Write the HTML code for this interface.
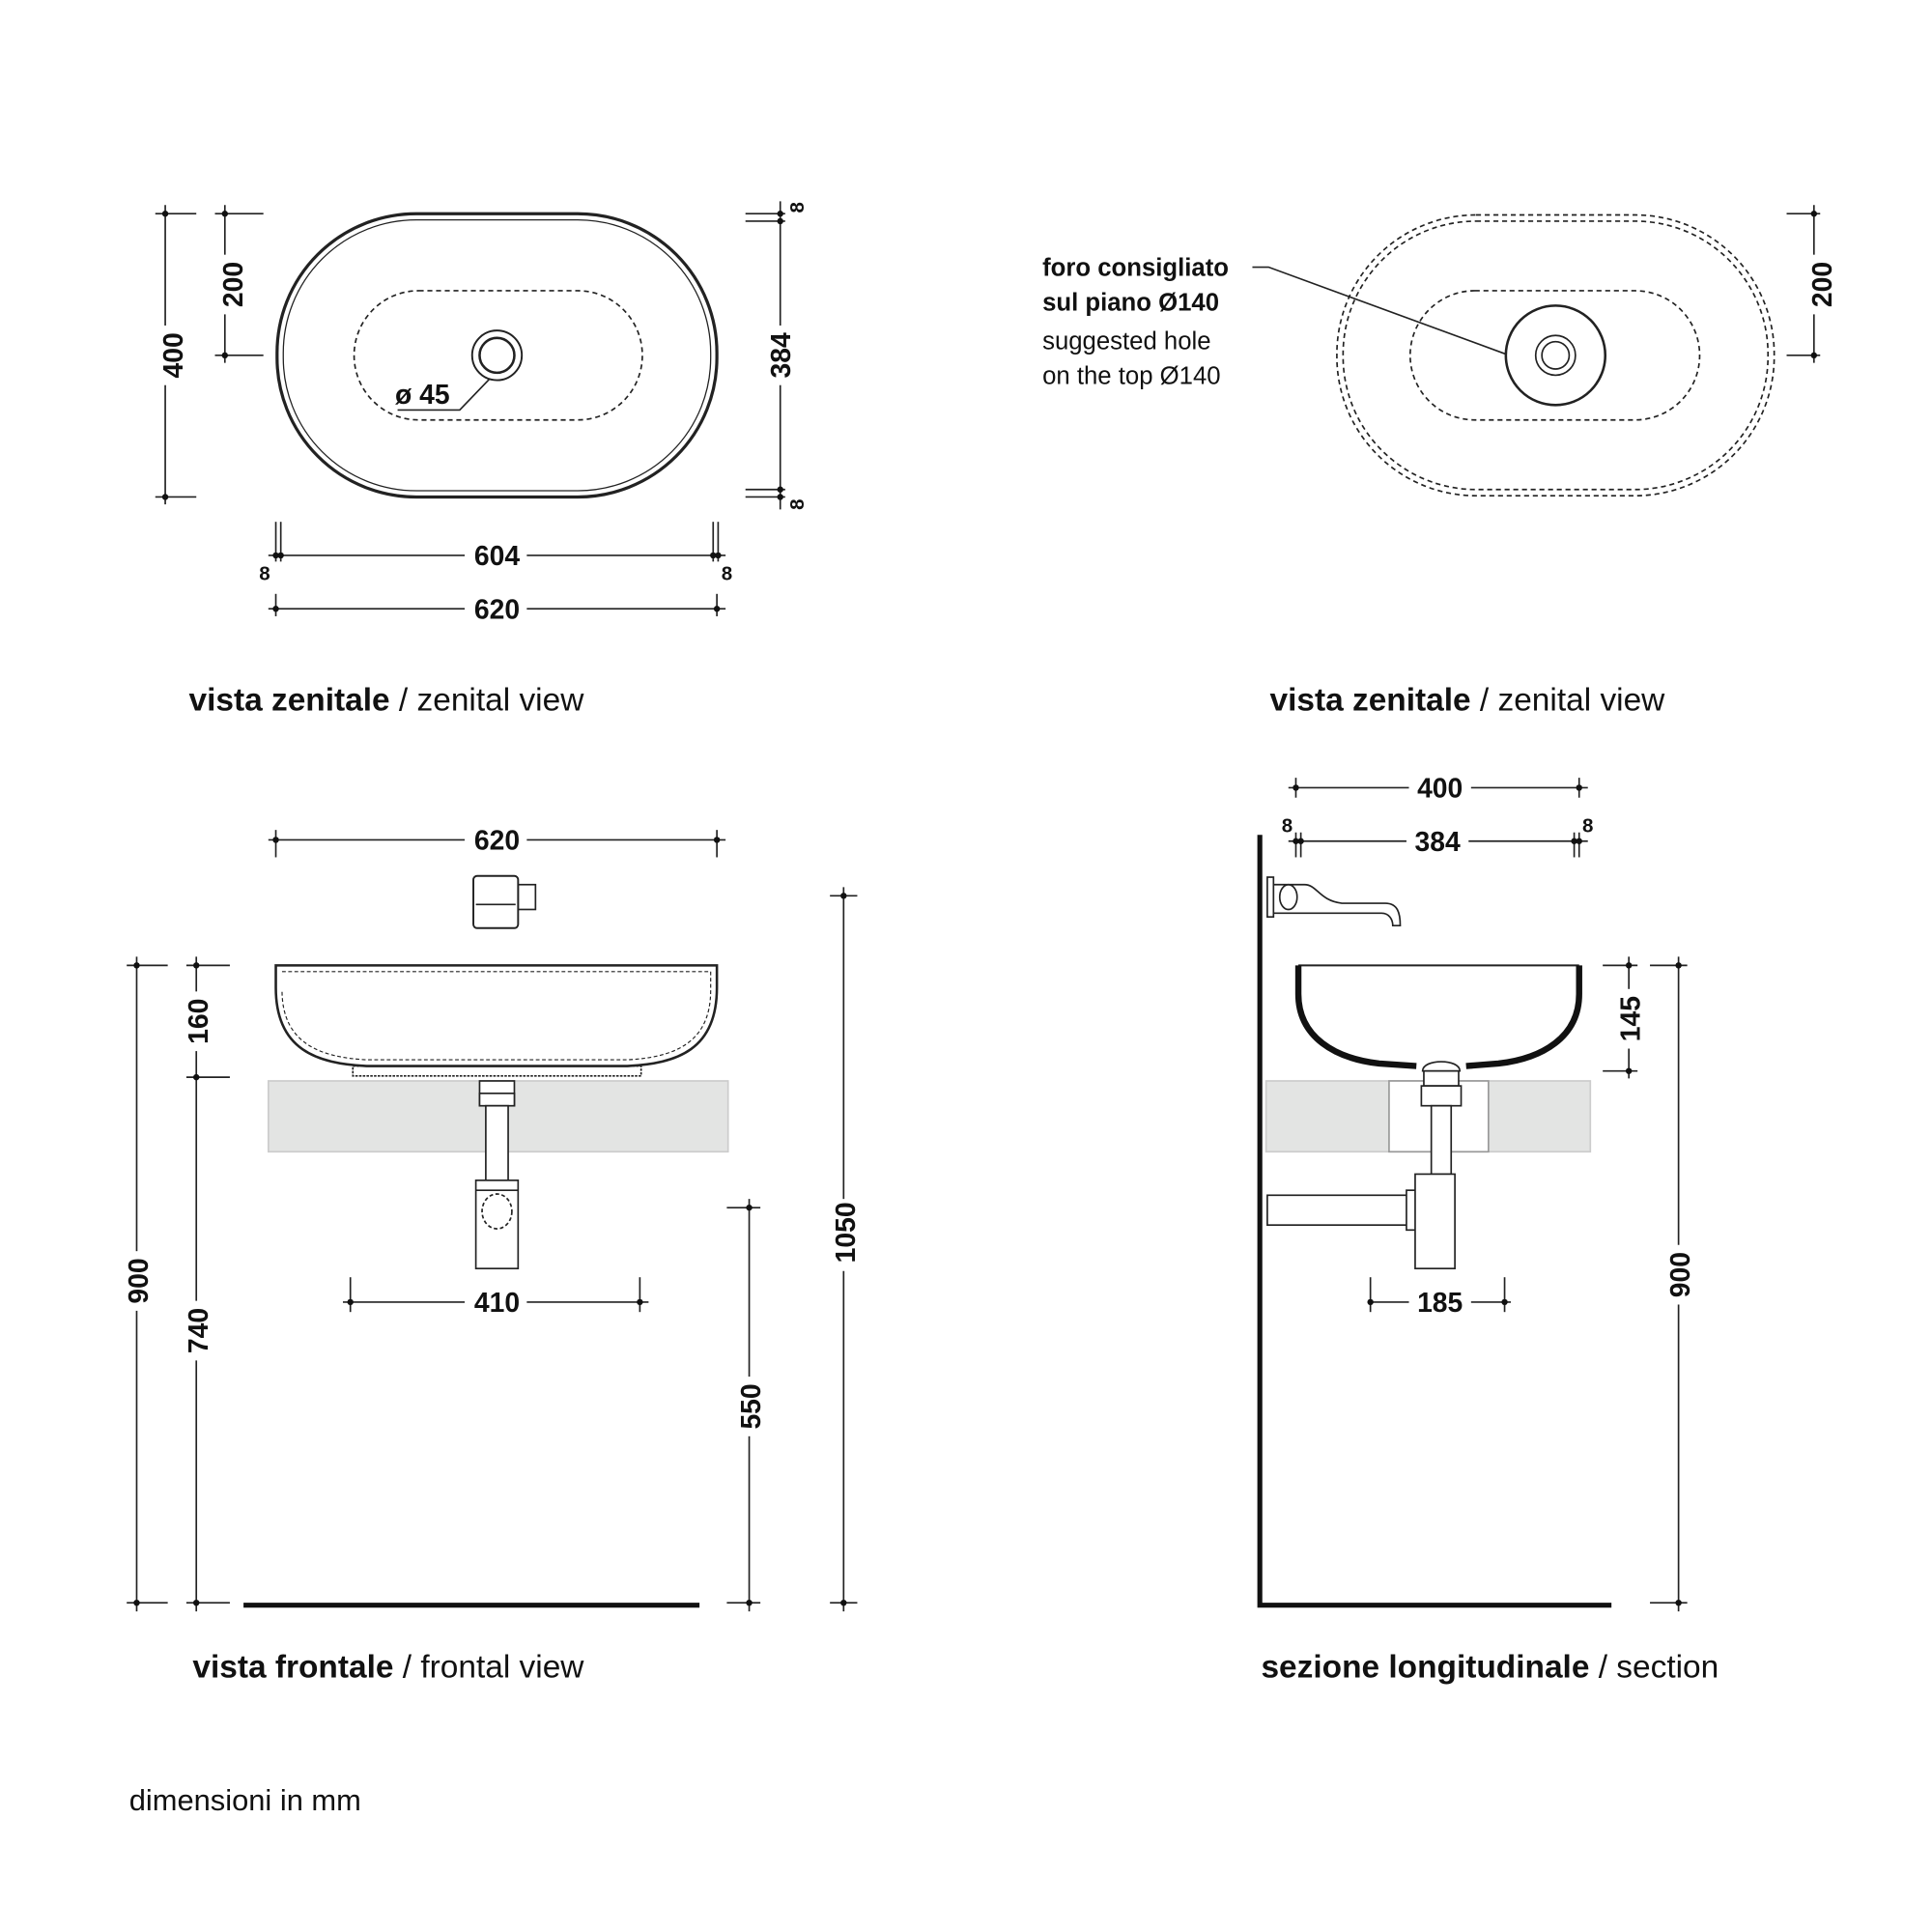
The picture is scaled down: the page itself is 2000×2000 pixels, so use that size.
<!DOCTYPE html>
<html><head><meta charset="utf-8"><style>
html,body{margin:0;padding:0;background:#fff;}
svg{display:block;}
text{font-family:"Liberation Sans Narrow","Liberation Sans",sans-serif;fill:#111;}
.d{font-size:22px;font-weight:bold;}
.s{font-size:16px;font-weight:bold;}
.cap{font-size:26px;}
</style></head><body>
<svg width="2000" height="2000" viewBox="0 0 1555 1555" xmlns="http://www.w3.org/2000/svg">
<g stroke="#222" stroke-width="1.3" fill="none">
<!-- ===== TOP LEFT ===== -->
<rect x="223" y="172" width="354" height="228" rx="112" stroke-width="2.5"/>
<rect x="228" y="177" width="344" height="218" rx="107" stroke-width="1"/>
<rect x="285" y="234" width="232" height="104" rx="52" stroke-dasharray="4,3"/>
<circle cx="400" cy="286" r="20" stroke-width="1.5"/>
<circle cx="400" cy="286" r="14" stroke-width="2"/>
<polyline points="394,305 370,330 320,330"/>
<line x1="133" y1="165" x2="133" y2="406"/><line x1="125" y1="172" x2="158" y2="172"/><line x1="125" y1="400" x2="158" y2="400"/>
<line x1="181" y1="165" x2="181" y2="292"/><line x1="173" y1="172" x2="212" y2="172"/><line x1="173" y1="286" x2="212" y2="286"/>
<line x1="628" y1="162" x2="628" y2="410"/>
<line x1="600" y1="172" x2="632" y2="172"/><line x1="600" y1="178" x2="632" y2="178"/>
<line x1="600" y1="394" x2="632" y2="394"/><line x1="600" y1="400" x2="632" y2="400"/>
<line x1="216" y1="447" x2="584" y2="447"/>
<line x1="222" y1="420" x2="222" y2="452"/><line x1="226" y1="420" x2="226" y2="452"/>
<line x1="574" y1="420" x2="574" y2="452"/><line x1="578" y1="420" x2="578" y2="452"/>
<line x1="216" y1="490" x2="584" y2="490"/>
<line x1="222" y1="478" x2="222" y2="496"/><line x1="577" y1="478" x2="577" y2="496"/>

<!-- ===== TOP RIGHT ===== -->
<rect x="1076" y="173" width="352" height="226" rx="112" stroke-dasharray="4,3"/>
<rect x="1081" y="178" width="342" height="216" rx="107" stroke-dasharray="4,3"/>
<rect x="1135" y="234" width="233" height="104" rx="52" stroke-dasharray="4,3"/>
<circle cx="1252" cy="286" r="40" stroke-width="2"/>
<circle cx="1252" cy="286" r="16"/>
<circle cx="1252" cy="286" r="11"/>
<polyline points="1008,215 1021,215 1212,285"/>
<line x1="1460" y1="165" x2="1460" y2="292"/><line x1="1438" y1="172" x2="1465" y2="172"/><line x1="1438" y1="286" x2="1465" y2="286"/>

<!-- ===== FRONTAL ===== -->
<line x1="216" y1="676" x2="584" y2="676"/><line x1="222" y1="668" x2="222" y2="690"/><line x1="577" y1="668" x2="577" y2="690"/>
<rect x="381" y="705" width="36" height="42" rx="3" stroke-width="1.5"/>
<rect x="417" y="712" width="14" height="20"/>
<line x1="383" y1="728" x2="415" y2="728"/>
<path d="M222,777 L577,777 L577,795 C577,845 545,856 505,858 L295,858 C255,856 222,845 222,795 Z" stroke-width="2"/>
<path d="M227,782 L572,782 L572,797 C572,840 542,851 505,853 L295,853 C258,851 227,840 227,797" stroke-dasharray="3,2" stroke-width="0.9"/>
<rect x="284" y="858" width="232" height="8" stroke-dasharray="2,1"/>
<rect x="216" y="870" width="370" height="57" fill="#e3e4e3" stroke="#ccc"/>
<rect x="386" y="870" width="28" height="20" fill="#fff"/>
<rect x="386" y="880" width="28" height="10" fill="#fff"/>
<rect x="391" y="890" width="18" height="65" fill="#fff"/>
<rect x="383" y="950" width="34" height="71" fill="#fff"/>
<line x1="383" y1="958" x2="417" y2="958"/>
<ellipse cx="400" cy="975" rx="12" ry="14" stroke-dasharray="3,2"/>
<line x1="110" y1="770" x2="110" y2="1297"/><line x1="102" y1="777" x2="135" y2="777"/><line x1="102" y1="1290" x2="135" y2="1290"/>
<line x1="158" y1="770" x2="158" y2="1297"/><line x1="150" y1="777" x2="185" y2="777"/><line x1="150" y1="867" x2="185" y2="867"/><line x1="150" y1="1290" x2="185" y2="1290"/>
<line x1="679" y1="714" x2="679" y2="1297"/><line x1="668" y1="721" x2="690" y2="721"/><line x1="668" y1="1290" x2="690" y2="1290"/>
<line x1="603" y1="965" x2="603" y2="1297"/><line x1="585" y1="972" x2="612" y2="972"/><line x1="585" y1="1290" x2="612" y2="1290"/>
<line x1="276" y1="1048" x2="522" y2="1048"/><line x1="282" y1="1028" x2="282" y2="1056"/><line x1="515" y1="1028" x2="515" y2="1056"/>
<line x1="196" y1="1292" x2="563" y2="1292" stroke="#111" stroke-width="4"/>

<!-- ===== SECTION ===== -->
<polyline points="1014,672 1014,1292 1297,1292" stroke="#111" stroke-width="4"/>
<line x1="1037" y1="634" x2="1278" y2="634"/><line x1="1043" y1="626" x2="1043" y2="642"/><line x1="1271" y1="626" x2="1271" y2="642"/>
<line x1="1037" y1="677" x2="1278" y2="677"/>
<line x1="1043" y1="670" x2="1043" y2="690"/><line x1="1047" y1="670" x2="1047" y2="690"/>
<line x1="1267" y1="670" x2="1267" y2="690"/><line x1="1271" y1="670" x2="1271" y2="690"/>
<rect x="1020" y="706" width="5" height="32"/>
<path d="M1025,712 L1050,712 C1060,712 1062,725 1080,727 L1115,727 C1125,727 1127,735 1127,745 L1121,745 C1121,740 1118,735 1112,735 L1025,735"/>
<ellipse cx="1037" cy="722" rx="7" ry="10"/>
<path d="M1045,777 L1271,777" stroke-width="1.5"/>
<path d="M1045,777 L1045,800 C1045,835 1075,852 1110,856 L1140,858 M1271,777 L1271,800 C1271,835 1241,852 1206,856 L1180,858" stroke="#111" stroke-width="5"/>
<path d="M1145,862 C1145,852 1175,852 1175,862 Z" fill="#fff"/>
<rect x="1019" y="870" width="261" height="57" fill="#e3e4e3" stroke="#ccc"/>
<rect x="1118" y="870" width="80" height="57" fill="#fff" stroke="#999"/>
<rect x="1146" y="862" width="28" height="12" fill="#fff"/>
<rect x="1144" y="874" width="32" height="16" fill="#fff"/>
<rect x="1152" y="890" width="16" height="55" fill="#fff"/>
<rect x="1020" y="962" width="115" height="24" fill="#fff"/>
<rect x="1132" y="958" width="8" height="32" fill="#fff"/>
<rect x="1139" y="945" width="32" height="76" fill="#fff"/>
<line x1="1103" y1="1048" x2="1216" y2="1048"/><line x1="1103" y1="1028" x2="1103" y2="1056"/><line x1="1211" y1="1028" x2="1211" y2="1056"/>
<line x1="1311" y1="770" x2="1311" y2="868"/><line x1="1290" y1="777" x2="1318" y2="777"/><line x1="1290" y1="862" x2="1318" y2="862"/>
<line x1="1351" y1="770" x2="1351" y2="1297"/><line x1="1328" y1="777" x2="1358" y2="777"/><line x1="1328" y1="1290" x2="1358" y2="1290"/>
</g>
<g fill="#111">
<circle cx="133" cy="172" r="2.5"/><circle cx="133" cy="400" r="2.5"/>
<circle cx="181" cy="172" r="2.5"/><circle cx="181" cy="286" r="2.5"/>
<circle cx="628" cy="172" r="2.5"/><circle cx="628" cy="178" r="2.5"/><circle cx="628" cy="394" r="2.5"/><circle cx="628" cy="400" r="2.5"/>
<circle cx="222" cy="447" r="2.5"/><circle cx="226" cy="447" r="2.5"/><circle cx="574" cy="447" r="2.5"/><circle cx="578" cy="447" r="2.5"/>
<circle cx="222" cy="490" r="2.5"/><circle cx="577" cy="490" r="2.5"/>
<circle cx="1460" cy="172" r="2.5"/><circle cx="1460" cy="286" r="2.5"/>
<circle cx="222" cy="676" r="2.5"/><circle cx="577" cy="676" r="2.5"/>
<circle cx="110" cy="777" r="2.5"/><circle cx="110" cy="1290" r="2.5"/>
<circle cx="158" cy="777" r="2.5"/><circle cx="158" cy="867" r="2.5"/><circle cx="158" cy="1290" r="2.5"/>
<circle cx="679" cy="721" r="2.5"/><circle cx="679" cy="1290" r="2.5"/>
<circle cx="603" cy="972" r="2.5"/><circle cx="603" cy="1290" r="2.5"/>
<circle cx="282" cy="1048" r="2.5"/><circle cx="515" cy="1048" r="2.5"/>
<circle cx="1043" cy="634" r="2.5"/><circle cx="1271" cy="634" r="2.5"/>
<circle cx="1043" cy="677" r="2.5"/><circle cx="1047" cy="677" r="2.5"/><circle cx="1267" cy="677" r="2.5"/><circle cx="1271" cy="677" r="2.5"/>
<circle cx="1103" cy="1048" r="2.5"/><circle cx="1211" cy="1048" r="2.5"/>
<circle cx="1311" cy="777" r="2.5"/><circle cx="1311" cy="862" r="2.5"/>
<circle cx="1351" cy="777" r="2.5"/><circle cx="1351" cy="1290" r="2.5"/>
</g>
<g fill="#fff">
<rect x="126" y="262" width="16" height="48"/><rect x="174" y="205" width="16" height="48"/><rect x="620" y="262" width="16" height="48"/>
<rect x="374" y="436" width="50" height="24"/><rect x="374" y="479" width="50" height="24"/>
<rect x="1452" y="205" width="16" height="48"/>
<rect x="374" y="665" width="50" height="24"/><rect x="374" y="1037" width="50" height="24"/>
<rect x="103" y="1007" width="16" height="48"/><rect x="151" y="798" width="16" height="48"/><rect x="151" y="1047" width="16" height="48"/>
<rect x="672" y="965" width="16" height="58"/><rect x="596" y="1108" width="16" height="48"/>
<rect x="1134" y="623" width="50" height="24"/><rect x="1132" y="666" width="50" height="24"/><rect x="1134" y="1037" width="50" height="24"/>
<rect x="1304" y="796" width="16" height="48"/><rect x="1344" y="1002" width="16" height="48"/>
</g>
<g>
<text class="d" transform="translate(147,286) rotate(-90)" text-anchor="middle">400</text>
<text class="d" transform="translate(195,229) rotate(-90)" text-anchor="middle">200</text>
<text class="d" transform="translate(636,286) rotate(-90)" text-anchor="middle">384</text>
<text class="s" transform="translate(647,167) rotate(-90)" text-anchor="middle">8</text>
<text class="s" transform="translate(647,406) rotate(-90)" text-anchor="middle">8</text>
<text class="d" x="400" y="455" text-anchor="middle">604</text>
<text class="s" x="213" y="467" text-anchor="middle">8</text>
<text class="s" x="585" y="467" text-anchor="middle">8</text>
<text class="d" x="400" y="498" text-anchor="middle">620</text>
<text class="d" x="318" y="325">ø 45</text>
<text class="d" transform="translate(1474,229) rotate(-90)" text-anchor="middle">200</text>
<text class="d" x="400" y="684" text-anchor="middle">620</text>
<text class="d" x="400" y="1056" text-anchor="middle">410</text>
<text class="d" transform="translate(119,1031) rotate(-90)" text-anchor="middle">900</text>
<text class="d" transform="translate(167,822) rotate(-90)" text-anchor="middle">160</text>
<text class="d" transform="translate(167,1071) rotate(-90)" text-anchor="middle">740</text>
<text class="d" transform="translate(688,992) rotate(-90)" text-anchor="middle">1050</text>
<text class="d" transform="translate(612,1132) rotate(-90)" text-anchor="middle">550</text>
<text class="d" x="1159" y="642" text-anchor="middle">400</text>
<text class="d" x="1157" y="685" text-anchor="middle">384</text>
<text class="s" x="1036" y="670" text-anchor="middle">8</text>
<text class="s" x="1278" y="670" text-anchor="middle">8</text>
<text class="d" x="1159" y="1056" text-anchor="middle">185</text>
<text class="d" transform="translate(1320,820) rotate(-90)" text-anchor="middle">145</text>
<text class="d" transform="translate(1360,1026) rotate(-90)" text-anchor="middle">900</text>
</g>
<text x="839" y="222" style="font-size:20px;font-weight:bold">foro consigliato</text>
<text x="839" y="250" style="font-size:20px;font-weight:bold">sul piano Ø140</text>
<text x="839" y="281" style="font-size:20px">suggested hole</text>
<text x="839" y="309" style="font-size:20px">on the top Ø140</text>
<text class="cap" x="152" y="572"><tspan font-weight="bold">vista zenitale</tspan> / zenital view</text>
<text class="cap" x="1022" y="572"><tspan font-weight="bold">vista zenitale</tspan> / zenital view</text>
<text class="cap" x="155" y="1350"><tspan font-weight="bold">vista frontale</tspan> / frontal view</text>
<text class="cap" x="1015" y="1350"><tspan font-weight="bold">sezione longitudinale</tspan> / section</text>
<text x="104" y="1457" style="font-family:'Liberation Sans',sans-serif;font-size:24px">dimensioni in mm</text>
</svg>
</body></html>
